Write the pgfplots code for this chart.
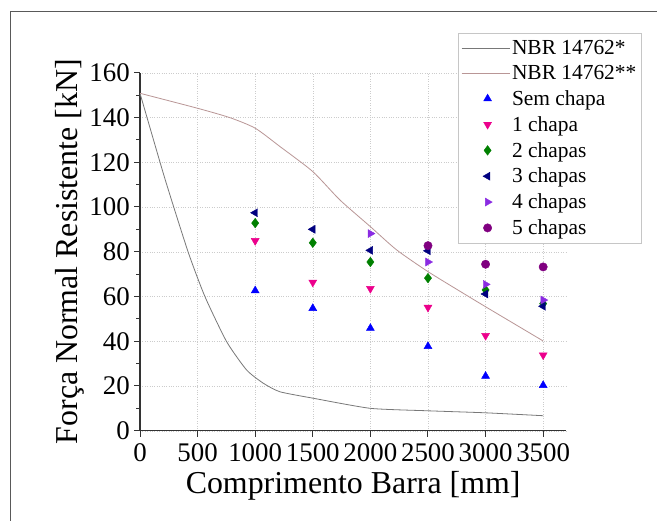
\documentclass[border=0pt]{standalone}
\usepackage{fontspec}
\setmainfont{Liberation Serif}
\usepackage{pgfplots}
\pgfplotsset{compat=1.18}
\definecolor{cUp}{RGB}{185,150,150}
\definecolor{cLo}{RGB}{120,120,120}
\definecolor{cViolet}{RGB}{138,43,226}
\definecolor{cPurple}{RGB}{128,0,128}
\definecolor{cNavy}{RGB}{0,0,128}
\definecolor{cGreen}{RGB}{0,128,0}
\pgfplotsset{
  lineleg/.style={legend image code/.code={\draw[##1, mark=none] (0bp,0bp) -- (48bp,0bp);}},
  markleg/.style={legend image code/.code={\draw[##1, only marks] plot coordinates {(26bp,0bp)};}},
}
\begin{document}
\begin{tikzpicture}[x=1bp,y=1bp]
\path[use as bounding box] (0,0) rectangle (657,-521);
\fill[white] (0,0) rectangle (657,-521);
\draw[gray!70!black, line width=1bp] (10.5,-521) -- (10.5,-12) -- (657,-12);
\begin{axis}[
  at={(140bp,-430.7bp)}, anchor=south west,
  scale only axis, width=426.2bp, height=358bp,
  xmin=0, xmax=3700, ymin=0, ymax=160,
  axis x line*=bottom, axis y line*=left,
  axis line style={-, line width=1.2bp, black!80},
  xtick={0,500,...,3500}, ytick={0,20,...,160},
  xticklabels={0,500,1000,1500,2000,2500,3000,3500},
  yticklabels={0,20,40,60,80,100,120,140,160},
  minor y tick num=1,
  tick align=outside,
  major tick length=6bp, minor tick length=4bp,
  every tick/.style={black!80, line width=1bp},
  grid=major,
  major grid style={dotted, gray!40},
  tick label style={font=\rmfamily\fontsize{27}{30}\selectfont},
  xticklabel style={inner sep=1bp, yshift=-6bp},
  yticklabel style={inner sep=2bp, xshift=-2bp},
  xlabel={Comprimento Barra [mm]},
  ylabel={Força Normal Resistente [kN]},
  label style={font=\rmfamily\fontsize{32}{36}\selectfont},
  xlabel style={yshift=-5bp},
  ylabel style={yshift=0bp},
  legend style={at={(458bp-140bp,430.7bp-33bp)}, anchor=north west,
     draw=gray!45, fill=white, font=\rmfamily\fontsize{21.5}{24}\selectfont,
     inner xsep=3bp, inner ysep=5bp, row sep=5.5bp,
     legend cell align=left},
]
\addplot[cLo, line width=0.8bp, smooth, tension=0.35, lineleg] coordinates {
(0,150.8) (214,113) (417,80) (564,59.9) (752,39.8) (926,27.1) (1071,21.2) (1215,17.4) (1505,14.5) (2000,10.0) (2500,8.9) (3000,8.0) (3500,6.7)};
\addlegendentry{NBR 14762*}
\addplot[cUp, line width=0.8bp, smooth, tension=0.4, lineleg] coordinates {
(0,150.8) (500,144.1) (781,139.9) (1000,135.2) (1215,127) (1500,115.8) (1736,103.1) (2000,91.2) (2228,80.8) (2500,71.1) (2807,61.4) (3000,55.4) (3500,40.1)};
\addlegendentry{NBR 14762**}
\addplot[only marks, mark=triangle*, mark size=4.6bp, blue, mark options={fill=blue}, markleg] coordinates {
(1000,62.6) (1500,54.7) (2000,45.8) (2500,37.7) (3000,24.4) (3500,20.3)};
\addlegendentry{Sem chapa}
\addplot[only marks, mark=triangle*, mark size=4.6bp, magenta, mark options={rotate=180, fill=magenta}, markleg] coordinates {
(1000,84.9) (1500,66.3) (2000,63.5) (2500,55.1) (3000,42.5) (3500,33.8)};
\addlegendentry{1 chapa}
\addplot[only marks, mark=diamond*, mark size=4.8bp, cGreen, mark options={fill=cGreen}, markleg] coordinates {
(1000,92.8) (1500,84.0) (2000,75.4) (2500,68.2) (3000,62.9) (3500,56.8)};
\addlegendentry{2 chapas}
\addplot[only marks, mark=triangle*, mark size=4.6bp, cNavy, mark options={rotate=90, fill=cNavy}, markleg] coordinates {
(1000,97.4) (1500,90.0) (2000,80.6) (2500,80.4) (3000,61.1) (3500,55.6)};
\addlegendentry{3 chapas}
\addplot[only marks, mark=triangle*, mark size=4.6bp, cViolet, mark options={rotate=-90, fill=cViolet}, markleg] coordinates {
(2000,88.1) (2500,75.4) (3000,65.4) (3500,58.4)};
\addlegendentry{4 chapas}
\addplot[only marks, mark=*, mark size=4.2bp, cPurple, mark options={fill=cPurple}, markleg] coordinates {
(2500,82.7) (3000,74.4) (3500,73.2)};
\addlegendentry{5 chapas}
\end{axis}
\end{tikzpicture}
\end{document}
